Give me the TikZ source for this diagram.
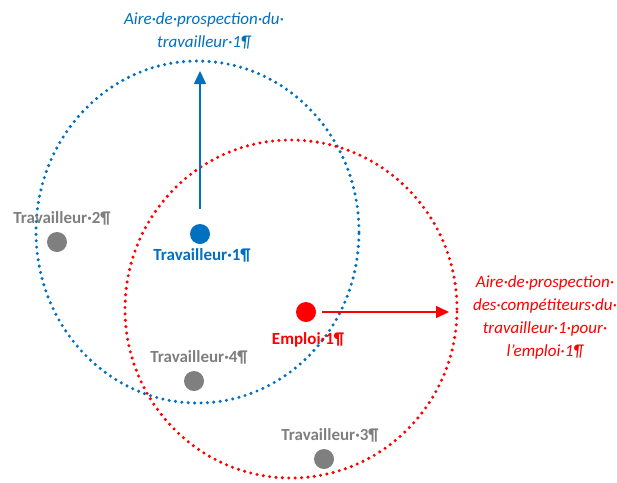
\documentclass[tikz,border=0pt]{standalone}
\usepackage{fontspec}
\setmainfont{Carlito}
\usetikzlibrary{arrows.meta}
\definecolor{oblue}{HTML}{0070C0}
\definecolor{ored}{HTML}{FF0000}
\definecolor{ogray}{HTML}{7F7F7F}
\begin{document}
\begin{tikzpicture}[x=1pt,y=-1pt,
  dotline/.style={line width=3.4pt,line cap=round,dash pattern=on 0pt off 6.4pt},
  pt/.style={circle,fill=#1,inner sep=0pt,minimum size=20pt},
  lab/.style={font=\fontsize{17}{20}\selectfont\bfseries,text=#1,inner sep=0pt},
  area/.style={font=\fontsize{17}{23}\selectfont\itshape,text=#1,align=center,inner sep=0pt},
  arr/.style={draw=#1,line width=1.5pt,-{Triangle[length=13pt,width=12pt]}}]
\useasboundingbox (0,0) rectangle (617,482);
% areas
\draw[dotline,oblue] (197.5,232) ellipse [x radius=161.5pt,y radius=171pt];
\draw[dotline,ored] (291,309) ellipse [x radius=166pt,y radius=169pt];
% points
\node[pt=oblue] (t1) at (200,234) {};
\node[pt=ored] (e1) at (306,312) {};
\node[pt=ogray] (t2) at (57,242) {};
\node[pt=ogray] (t4) at (194,381) {};
\node[pt=ogray] (t3) at (324,459) {};
% labels
\node[lab=oblue] (lt1) at (202,255) {Travailleur·1¶};
\node[lab=ored] (le1) at (308,340) {Emploi·1¶};
\node[lab=ogray] (lt2) at (62,218) {Travailleur·2¶};
\node[lab=ogray] (lt4) at (199,357) {Travailleur·4¶};
\node[lab=ogray] (lt3) at (330,435) {Travailleur·3¶};
\node[area=oblue] (ab) at (204,31) {Aire·de·prospection·du·\\travailleur·1¶};
\node[area=ored] (ar) at (545,317) {Aire·de·prospection·\\des·compétiteurs·du·\\travailleur·1·pour·\\l’emploi·1¶};
% arrows
\coordinate (bs) at (200,209);
\coordinate (be) at (200,71);
\coordinate (rs) at (322,312);
\coordinate (re) at (449,312);
\draw[arr=oblue] (bs) -- (be);
\draw[arr=ored] (rs) -- (re);
\end{tikzpicture}
\end{document}
